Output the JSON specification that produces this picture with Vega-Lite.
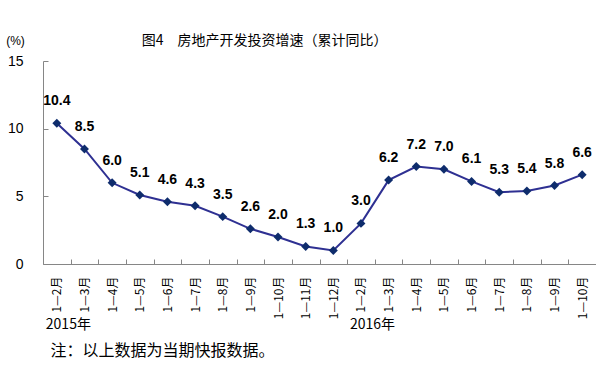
{
  "$schema": "https://vega.github.io/schema/vega-lite/v6.json",
  "width": 553,
  "height": 203,
  "autosize": {"type": "none"},
  "padding": {"left": 43, "top": 61, "right": 0, "bottom": 101},
  "background": "white",
  "config": {"view": {"stroke": null}, "font": "Liberation Sans"},
  "title": {
    "text": "图4　房地产开发投资增速（累计同比）",
    "font": "Noto Sans CJK SC",
    "fontSize": 14,
    "fontWeight": "normal",
    "color": "black",
    "anchor": "start",
    "dx": 136,
    "offset": -14
  },
  "datasets": {
    "years": [{"p": "2015年1—2月", "t": "2015年"}, {"p": "2016年1—2月", "t": "2016年"}]
  },
  "data": {
    "values": [
      {"p": "2015年1—2月", "v": 10.4},
      {"p": "2015年1—3月", "v": 8.5},
      {"p": "2015年1—4月", "v": 6.0},
      {"p": "2015年1—5月", "v": 5.1},
      {"p": "2015年1—6月", "v": 4.6},
      {"p": "2015年1—7月", "v": 4.3},
      {"p": "2015年1—8月", "v": 3.5},
      {"p": "2015年1—9月", "v": 2.6},
      {"p": "2015年1—10月", "v": 2.0},
      {"p": "2015年1—11月", "v": 1.3},
      {"p": "2015年1—12月", "v": 1.0},
      {"p": "2016年1—2月", "v": 3.0},
      {"p": "2016年1—3月", "v": 6.2},
      {"p": "2016年1—4月", "v": 7.2},
      {"p": "2016年1—5月", "v": 7.0},
      {"p": "2016年1—6月", "v": 6.1},
      {"p": "2016年1—7月", "v": 5.3},
      {"p": "2016年1—8月", "v": 5.4},
      {"p": "2016年1—9月", "v": 5.8},
      {"p": "2016年1—10月", "v": 6.6}
    ]
  },
  "layer": [
    {
      "encoding": {
        "x": {
          "field": "p",
          "type": "nominal",
          "sort": null,
          "scale": {"type": "band", "paddingInner": 0, "paddingOuter": 0},
          "axis": {
            "labelExpr": "substring(datum.label, 5)",
            "labelAngle": -90,
            "labelFont": "Noto Sans CJK SC",
            "labelFontSize": 12,
            "labelColor": "black",
            "labelPadding": 17,
            "tickBand": "extent",
            "tickSize": -5,
            "tickColor": "#868686",
            "domainColor": "#868686",
            "title": "注：以上数据为当期快报数据。",
            "titleFont": "Noto Sans CJK SC",
            "titleFontSize": 16,
            "titleFontWeight": "normal",
            "titleColor": "black",
            "titleAlign": "left",
            "titleBaseline": "middle",
            "titleAnchor": "start",
            "titleX": 7,
            "titleY": 86
          }
        },
        "y": {
          "field": "v",
          "type": "quantitative",
          "scale": {"domain": [0, 15], "nice": false, "zero": true},
          "axis": {
            "values": [0, 5, 10, 15],
            "grid": false,
            "tickSize": -5,
            "tickColor": "#868686",
            "domainColor": "#868686",
            "labelFontSize": 14,
            "labelColor": "black",
            "labelPadding": 25,
            "title": "(%)",
            "titleAngle": 0,
            "titleFontSize": 12,
            "titleFontWeight": "normal",
            "titleColor": "black",
            "titleAlign": "center",
            "titleBaseline": "middle",
            "titleX": -28,
            "titleY": -21
          }
        }
      },
      "layer": [
        {"mark": {"type": "line", "color": "#2E3092", "strokeWidth": 2}},
        {"mark": {"type": "point", "shape": "diamond", "filled": true, "size": 80, "color": "#0E2C6C", "opacity": 1}},
        {
          "mark": {"type": "text", "fontWeight": "bold", "fontSize": 14, "dy": -22, "color": "black", "font": "Liberation Sans"},
          "encoding": {"text": {"field": "v", "type": "quantitative", "format": ".1f"}}
        }
      ]
    },
    {
      "data": {"name": "years"},
      "mark": {"type": "text", "align": "left", "baseline": "middle", "dx": -11, "font": "Noto Sans CJK SC", "fontSize": 14, "color": "black"},
      "encoding": {
        "x": {"field": "p", "type": "nominal", "sort": null},
        "y": {"datum": -4.5},
        "text": {"field": "t"}
      }
    }
  ]
}
